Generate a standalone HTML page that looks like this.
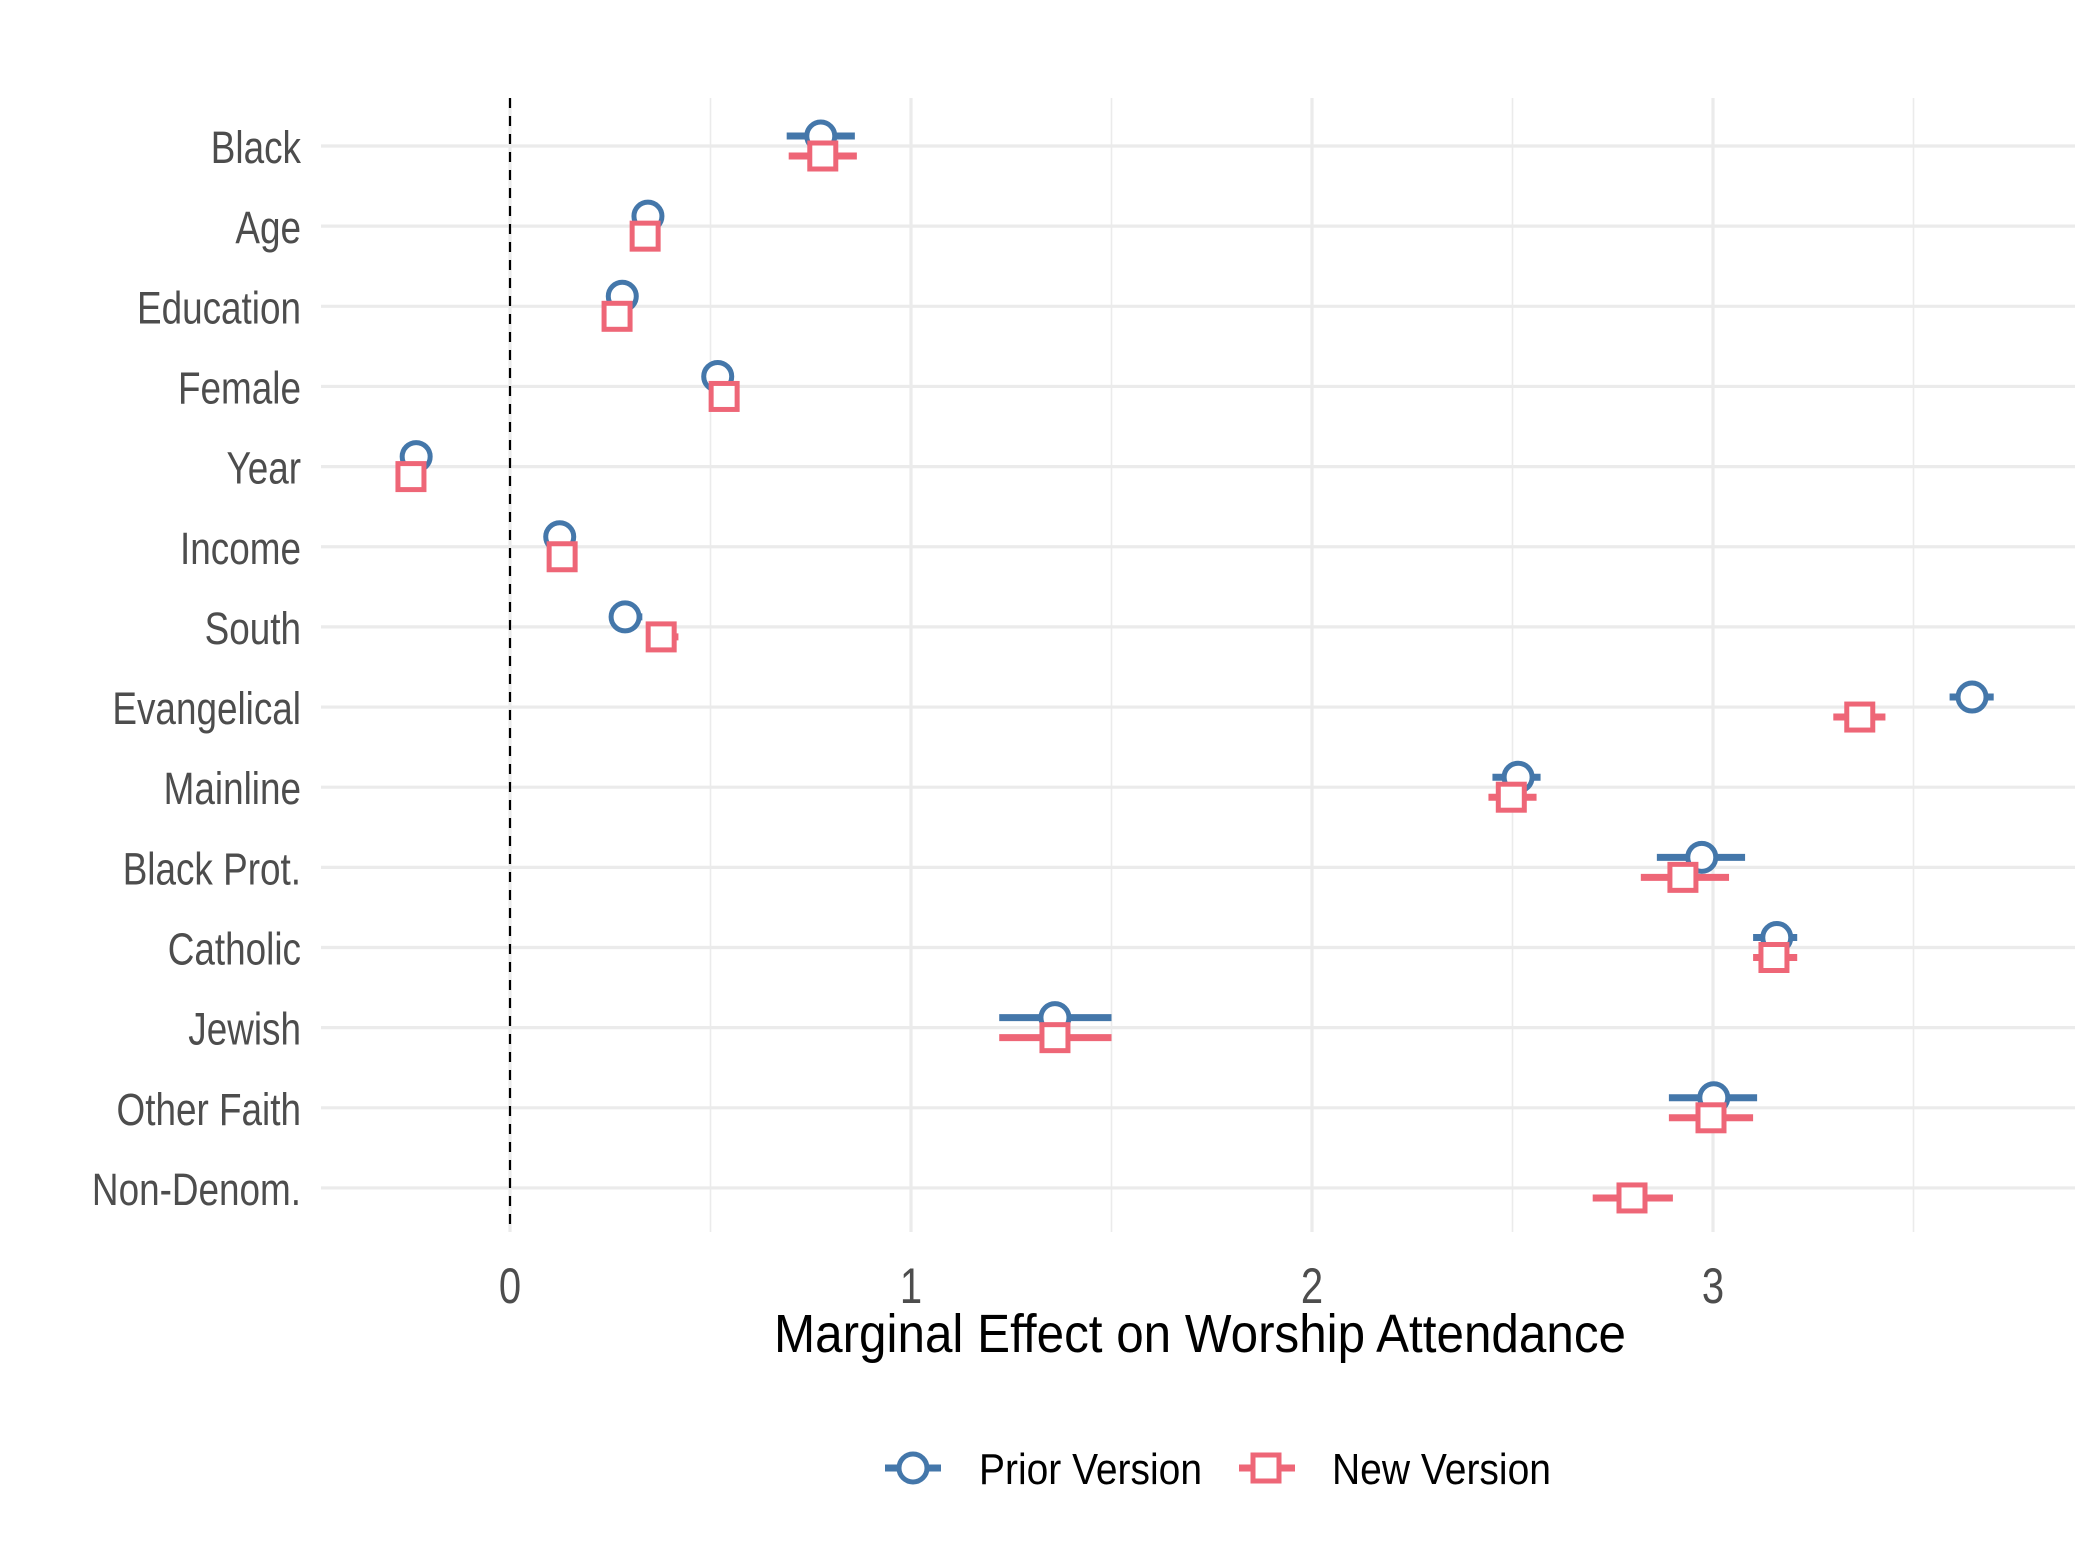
<!DOCTYPE html>
<html><head><meta charset="utf-8"><style>
html,body{margin:0;padding:0;background:#fff;}
svg{display:block;font-family:"Liberation Sans",sans-serif;}
</style></head><body>
<svg id="chart" width="2100" height="1549" viewBox="0 0 2100 1549" xmlns="http://www.w3.org/2000/svg">
<rect width="2100" height="1549" fill="#fff"/>
<g id="grid"></g>
<g id="marks"></g>
<g id="labels"></g>
<text x="1200" y="1352" font-size="54" fill="#000" text-anchor="middle" textLength="852" lengthAdjust="spacingAndGlyphs">Marginal Effect on Worship Attendance</text>
<g>
  <g>
    <line x1="885" y1="1468" x2="941" y2="1468" stroke="#4477AA" stroke-width="7"/>
    <circle cx="913" cy="1468" r="14" fill="#fff" stroke="#4477AA" stroke-width="5"/>
    <text x="979" y="1484" font-size="44" fill="#000" textLength="223" lengthAdjust="spacingAndGlyphs">Prior Version</text>
  </g>
  <g>
    <line x1="1239" y1="1468" x2="1295" y2="1468" stroke="#EE6677" stroke-width="7"/>
    <rect x="1253" y="1455" width="26" height="26" fill="#fff" stroke="#EE6677" stroke-width="5"/>
    <text x="1332" y="1484" font-size="44" fill="#000" textLength="219" lengthAdjust="spacingAndGlyphs">New Version</text>
  </g>
</g>
</svg>
<script>
const categories = ["Black","Age","Education","Female","Year","Income","South","Evangelical","Mainline","Black Prot.","Catholic","Jewish","Other Faith","Non-Denom."];
const priorEst = [0.775,0.344,0.28,0.518,-0.234,0.124,0.287,3.646,2.514,2.972,3.159,1.359,3.002,null];
const priorLo  = [0.69,0.32,0.26,0.50,-0.25,0.11,0.25,3.59,2.45,2.86,3.10,1.22,2.89,null];
const priorHi  = [0.86,0.37,0.30,0.54,-0.22,0.14,0.33,3.70,2.57,3.08,3.21,1.50,3.11,null];
const newEst = [0.78,0.337,0.267,0.534,-0.247,0.13,0.377,3.366,2.497,2.925,3.152,1.359,2.995,2.798];
const newLo  = [0.695,0.31,0.24,0.51,-0.27,0.11,0.34,3.30,2.44,2.82,3.10,1.22,2.89,2.70];
const newHi  = [0.865,0.36,0.29,0.56,-0.22,0.15,0.42,3.43,2.56,3.04,3.21,1.50,3.10,2.90];
const xTicks = [0,1,2,3];
const xTickLabels = ["0","1","2","3"];
const xMinor = [0.5,1.5,2.5,3.5];

const NS="http://www.w3.org/2000/svg";
const L=321,R=2075,T=98,B=1232;
const X=v=>510+v*401;
const Y=i=>146+i*80.15;
function mk(tag,attrs,parent){const e=document.createElementNS(NS,tag);for(const k in attrs)e.setAttribute(k,attrs[k]);parent.appendChild(e);return e;}
const grid=document.getElementById('grid'),marks=document.getElementById('marks'),labels=document.getElementById('labels');
xMinor.forEach(v=>{const l=mk('line',{x1:X(v),x2:X(v),y1:T,y2:B,stroke:'#ebebeb','stroke-width':1.6},grid);

});
xTicks.forEach((v,i)=>{const l=mk('line',{x1:X(v),x2:X(v),y1:T,y2:B,stroke:'#ebebeb','stroke-width':3.2},grid);


const t=mk('text',{x:X(v),y:1303,'font-size':50,fill:'#4d4d4d','text-anchor':'middle',transform:`translate(${X(v)},0) scale(0.8,1) translate(${-X(v)},0)`},labels);t.textContent=xTickLabels[i];

});
categories.forEach((c,i)=>{const l=mk('line',{x1:L,x2:R,y1:Y(i),y2:Y(i),stroke:'#ebebeb','stroke-width':3.2},grid);


const t=mk('text',{x:0,y:0,'font-size':45,fill:'#4d4d4d','text-anchor':'end',transform:`translate(301,${Y(i)+17}) scale(0.82,1)`},labels);t.textContent=c;

});
const z=mk('line',{x1:X(0),x2:X(0),y1:T,y2:B,stroke:'#000','stroke-width':2.2,'stroke-dasharray':'10,8'},grid);


categories.forEach((c,i)=>{
  if(priorEst[i]!==null){const y=Y(i)-10;
    const e=mk('line',{x1:X(priorLo[i]),x2:X(priorHi[i]),y1:y,y2:y,stroke:'#4477AA','stroke-width':7},marks);
    
    
    const p=mk('circle',{cx:X(priorEst[i]),cy:y,r:14,fill:'#fff',stroke:'#4477AA','stroke-width':5},marks);
    
    }
  if(newEst[i]!==null){const y=Y(i)+10;
    const e=mk('line',{x1:X(newLo[i]),x2:X(newHi[i]),y1:y,y2:y,stroke:'#EE6677','stroke-width':7},marks);
    
    
    const p=mk('rect',{x:X(newEst[i])-13,y:y-13,width:26,height:26,fill:'#fff',stroke:'#EE6677','stroke-width':5},marks);
    
    }
});
</script>
</body></html>
